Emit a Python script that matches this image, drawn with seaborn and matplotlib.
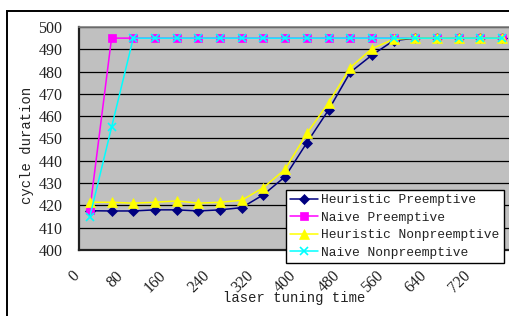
import matplotlib
matplotlib.use("Agg")
import matplotlib.pyplot as plt
import matplotlib.transforms as mtransforms
from matplotlib.patches import Rectangle
import pandas as pd
import seaborn as sns

sns.set_style("white")

# laser tuning time categories (one point every 40)
laser_time = [0, 40, 80, 120, 160, 200, 240, 280, 320, 360,
              400, 440, 480, 520, 560, 600, 640, 680, 720, 760]

heuristic_pre = [417.6, 417.5, 417.5, 418.0, 418.0, 417.5, 418.0, 419.0, 424.8, 432.9,
                 448.1, 462.8, 479.7, 487.4, 493.9, 495, 495, 495, 495, 495]
naive_pre = [418, 495, 495, 495, 495, 495, 495, 495, 495, 495,
             495, 495, 495, 495, 495, 495, 495, 495, 495, 495]
heuristic_nonpre = [421.4, 421.4, 421.0, 421.4, 422.0, 421.0, 421.4, 422.3, 428.0, 436.2,
                    452.3, 466.0, 481.8, 490.3, 494.5, 495, 495, 495, 495, 495]
naive_nonpre = [415, 455, 495, 495, 495, 495, 495, 495, 495, 495,
                495, 495, 495, 495, 495, 495, 495, 495, 495, 495]

series_names = ["Heuristic Preemptive", "Naive Preemptive",
                "Heuristic Nonpreemptive", "Naive Nonpreemptive"]
series_values = [heuristic_pre, naive_pre, heuristic_nonpre, naive_nonpre]
colors = ["#000080", "#FF00FF", "#FFFF00", "#00FFFF"]
markers = ["D", "s", "^", "x"]
msizes = [5, 5.5, 6.5, 6]

x_labels = [0, 80, 160, 240, 320, 400, 480, 560, 640, 720]
y_ticks = list(range(400, 501, 10))

df = pd.concat([pd.DataFrame({"time": laser_time, "duration": v, "series": n})
                for n, v in zip(series_names, series_values)], ignore_index=True)

fig = plt.figure(figsize=(5.09, 3.16), dpi=100)
ax = fig.add_axes([0.1552, 0.2089, 0.8527, 0.7057])
ax.set_facecolor("#C0C0C0")

for name, col, mk, ms in zip(series_names, colors, markers, msizes):
    sub = df[df["series"] == name]
    sns.lineplot(data=sub, x="time", y="duration", ax=ax, color=col, lw=1.1,
                 marker=mk, markersize=ms, markeredgecolor=col,
                 markeredgewidth=1.2 if mk == "x" else 0.5, label=name, sort=False)

ax.set_xlim(-20, 780)
ax.set_ylim(400, 500)
ax.set_yticks(y_ticks)
ax.yaxis.grid(True, color="black", lw=0.9)
ax.xaxis.grid(False)
ax.set_axisbelow(True)

ax.set_xticks([v - 20 for v in x_labels])
ax.set_xticklabels([str(v) for v in x_labels], rotation=45, ha="right", va="top",
                   fontsize=11.5, family="Liberation Serif", color="#222222")
ax.set_xticks([t - 20 for t in laser_time] + [780], minor=True)
ax.tick_params(axis="x", which="major", length=0, pad=13)
ax.tick_params(axis="x", which="minor", direction="in", length=4, width=1, color="#333333")
shift = mtransforms.ScaledTranslation(4 / 100, 0, fig.dpi_scale_trans)
for lab in ax.get_xticklabels():
    lab.set_transform(lab.get_transform() + shift)

ax.tick_params(axis="y", length=2, width=1, color="#333333", pad=10, labelsize=11.5,
               labelcolor="#222222")
for lab in ax.get_yticklabels():
    lab.set_family("Liberation Serif")

for s in ["left", "bottom"]:
    ax.spines[s].set_color("#202020")
    ax.spines[s].set_linewidth(1.6)
ax.spines["top"].set_color("#808080")
ax.spines["top"].set_linewidth(1.2)
ax.spines["right"].set_color("#808080")

ax.set_xlabel("laser tuning time", family="Liberation Mono", fontsize=10, color="#222222")
ax.set_ylabel("cycle duration", family="Liberation Mono", fontsize=10, color="#222222")
ax.xaxis.set_label_coords(0.495, -0.185)
ax.yaxis.set_label_coords(-0.104, 0.47)

leg = ax.legend(loc="lower left", bbox_to_anchor=(0.561, 0.1668),
                bbox_transform=fig.transFigure, prop={"family": "Liberation Mono", "size": 9.3},
                frameon=True, fancybox=False, framealpha=1, edgecolor="black",
                handlelength=2.2, handletextpad=0.2, labelspacing=0.42, borderpad=0.35,
                borderaxespad=0)
leg.get_frame().set_linewidth(1.0)
for t in leg.get_texts():
    t.set_color("#222222")

# outer chart frame, cut off at the right and bottom like the original
top = 1 - 11 / 316
fig.add_artist(Rectangle((7 / 509, -0.2), 1.2, top + 0.2, transform=fig.transFigure,
                         fill=False, lw=1.4, ec="black"))

fig.savefig("out.png", dpi=100, facecolor="white")
